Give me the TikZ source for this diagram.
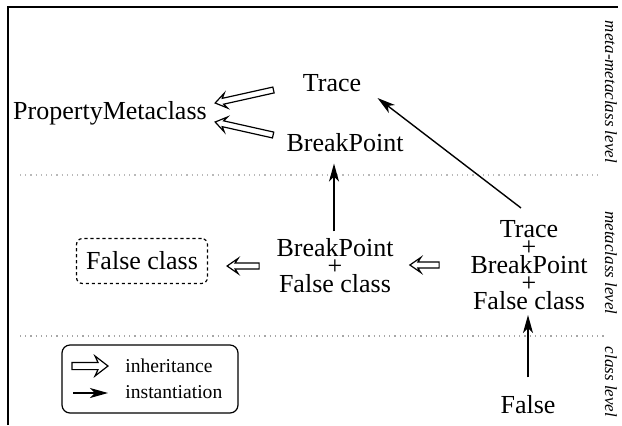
\documentclass[tikz,border=0pt]{standalone}
\usepackage{fontspec}
\setmainfont{Liberation Serif}
\usetikzlibrary{arrows.meta,calc}
\setlength{\lineskiplimit}{-50pt}
% hollow (inheritance) arrow: from #1 to #2; head length #3, notch #4, half head width #5, half shaft width #6
\newcommand\hollowarr[6]{%
  \draw[hollow] (#2)
    -- ($ ($(#2)!#3!(#1)$)!#5!90:(#1) $)
    -- ($ ($(#2)!#4!(#1)$)!#6!90:(#1) $)
    -- ($(#1)!#6!-90:(#2)$)
    -- ($(#1)!#6!90:(#2)$)
    -- ($ ($(#2)!#4!(#1)$)!#6!-90:(#1) $)
    -- ($ ($(#2)!#3!(#1)$)!#5!-90:(#1) $)
    -- cycle;}
\begin{document}
\begin{tikzpicture}[x=0.5pt,y=-0.5pt,
  lbl/.style={inner sep=0pt,align=center,font=\fontsize{13}{9}\selectfont},
  lvl/.style={inner sep=0pt,rotate=-90,font=\fontsize{8.5}{10}\selectfont\itshape},
  leg/.style={inner sep=0pt,anchor=west,font=\fontsize{9.8}{11}\selectfont},
  hollow/.style={line width=0.6pt,fill=white,line join=miter},
  inst/.style={line width=0.7pt,-{Stealth[length=9pt,width=5pt,inset=2.5pt]}},
  sep/.style={gray!55,line width=0.6pt,dotted},
  frame/.style={line width=1pt}
]
\useasboundingbox (0,0) rectangle (622,425);
\fill[white] (0,0) rectangle (622,425);
% frame and separators
\draw[frame] (8,425) -- (8,7) -- (618,7);
\draw[sep] (20,175) -- (600,175);
\draw[sep,gray!70] (20,336) -- (605,336);
% level labels
\node[lvl] (L1) at (611,92) {meta-metaclass level};
\node[lvl] (L2) at (611,263) {metaclass level};
\node[lvl] (L3) at (611,382) {class level};
% nodes
\node[lbl] (PM) at (110,113) {PropertyMetaclass};
\node[lbl] (Tr) at (332,83) {Trace};
\node[lbl] (BP) at (345,143) {BreakPoint};
\node[lbl] (BPFC) at (335,266) {BreakPoint\\+\\False class};
\node[lbl] (RS) at (529,265) {Trace\\+\\BreakPoint\\+\\False class};
\node[lbl] (F) at (528,405) {False};
\node[lbl,draw,dash pattern=on 1.6pt off 1.4pt,line width=0.6pt,rounded corners=3pt,
      minimum width=65.5pt,minimum height=22.5pt] (FC) at (142,261) {False class};
% inheritance
\coordinate (i1a) at ($(Tr.west)+(-29,7)$);
\coordinate (i1b) at ($(PM.east)+(8,-10)$);
\coordinate (i2a) at ($(BP.west)+(-13,-8)$);
\coordinate (i2b) at ($(PM.east)+(8,9)$);
\coordinate (i3a) at ($(BPFC.west)+(-17,0)$);
\coordinate (i3b) at ($(BPFC.west -| FC.east)+(19,0)$);
\coordinate (i4a) at ($(RS.west)+(-31,0)$);
\coordinate (i4b) at ($(RS.west -| BPFC.east)+(16,0)$);
\hollowarr{i1a}{i1b}{5.5pt}{4pt}{3.8pt}{1.5pt}
\hollowarr{i2a}{i2b}{5.5pt}{4pt}{3.8pt}{1.5pt}
\hollowarr{i3a}{i3b}{5.5pt}{4pt}{3.8pt}{1.5pt}
\hollowarr{i4a}{i4b}{5.5pt}{4pt}{3.8pt}{1.5pt}
% instantiation
\draw[inst] ($(BPFC.north)+(-1,-7)$) -- ($(BPFC.north |- BP.south)+(-1,11)$);
\draw[inst] ($(RS.north)+(-8,-12)$) -- ($(Tr.east)+(16,15)$);
\draw[inst] ($(F.north)+(0,-18)$) -- ($(F.north |- RS.south)+(0,5)$);
% legend
\node[draw,line width=0.6pt,rounded corners=4pt,minimum width=88pt,minimum height=34pt,inner sep=0pt] (Leg) at (150,379) {};
\coordinate (LA1) at (72,366);
\coordinate (LB1) at (108,366);
\coordinate (LA2) at (73,393);
\coordinate (LB2) at (108,393);
\hollowarr{LA1}{LB1}{6.5pt}{5pt}{5pt}{1.8pt}
\draw[inst] (LA2) -- (LB2);
\node[leg] (T1) at (125,366) {inheritance};
\node[leg] (T2) at (125,392) {instantiation};
\end{tikzpicture}
\end{document}
